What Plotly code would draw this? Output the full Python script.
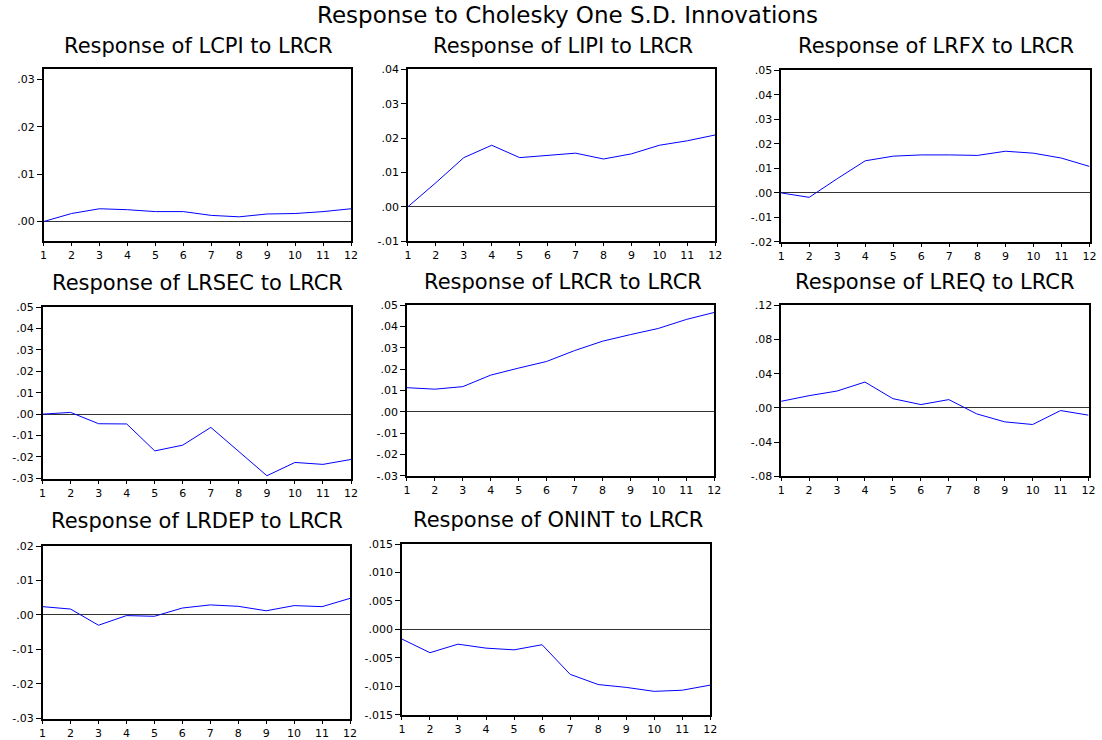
import plotly.graph_objects as go

W, H = 1102, 740

# ---------------- data ----------------
periods = list(range(1, 13))
x_ticklabels = [str(p) for p in periods]

main_title = "Response to Cholesky One S.D. Innovations"

titles = [
    "Response of LCPI to LRCR",
    "Response of LIPI to LRCR",
    "Response of LRFX to LRCR",
    "Response of LRSEC to LRCR",
    "Response of LRCR to LRCR",
    "Response of LREQ to LRCR",
    "Response of LRDEP to LRCR",
    "Response of ONINT to LRCR",
]

lcpi = [0.0000, 0.0017, 0.0027, 0.0025, 0.0021, 0.0021, 0.0013, 0.0010, 0.0016, 0.0017, 0.0021, 0.0027]
lipi = [0.0000, 0.0070, 0.0143, 0.0179, 0.0143, 0.0150, 0.0156, 0.0139, 0.0154, 0.0179, 0.0192, 0.0209]
lrfx = [0.0000, -0.0018, 0.0058, 0.0131, 0.0150, 0.0155, 0.0155, 0.0153, 0.0170, 0.0162, 0.0142, 0.0108]
lrsec = [0.0000, 0.0008, -0.0045, -0.0046, -0.0172, -0.0145, -0.0062, -0.0175, -0.0288, -0.0226, -0.0235, -0.0212]
lrcr = [0.0113, 0.0106, 0.0118, 0.0172, 0.0205, 0.0236, 0.0287, 0.0331, 0.0362, 0.0391, 0.0433, 0.0466]
lreq = [0.0077, 0.0143, 0.0197, 0.0302, 0.0108, 0.0039, 0.0097, -0.0070, -0.0163, -0.0194, -0.0031, -0.0085]
lrdep = [0.0024, 0.0017, -0.0030, -0.0002, -0.0004, 0.0020, 0.0029, 0.0025, 0.0012, 0.0027, 0.0024, 0.0048]
onint = [-0.0017, -0.0041, -0.0026, -0.0033, -0.0036, -0.0027, -0.0079, -0.0097, -0.0102, -0.0109, -0.0107, -0.0098]

series = [lcpi, lipi, lrfx, lrsec, lrcr, lreq, lrdep, onint]

yticks = [
    [0.00, 0.01, 0.02, 0.03],
    [-0.01, 0.00, 0.01, 0.02, 0.03, 0.04],
    [-0.02, -0.01, 0.00, 0.01, 0.02, 0.03, 0.04, 0.05],
    [-0.03, -0.02, -0.01, 0.00, 0.01, 0.02, 0.03, 0.04, 0.05],
    [-0.03, -0.02, -0.01, 0.00, 0.01, 0.02, 0.03, 0.04, 0.05],
    [-0.08, -0.04, 0.00, 0.04, 0.08, 0.12],
    [-0.03, -0.02, -0.01, 0.00, 0.01, 0.02],
    [-0.015, -0.010, -0.005, 0.000, 0.005, 0.010, 0.015],
]
yticklabels = [
    [".00", ".01", ".02", ".03"],
    ["-.01", ".00", ".01", ".02", ".03", ".04"],
    ["-.02", "-.01", ".00", ".01", ".02", ".03", ".04", ".05"],
    ["-.03", "-.02", "-.01", ".00", ".01", ".02", ".03", ".04", ".05"],
    ["-.03", "-.02", "-.01", ".00", ".01", ".02", ".03", ".04", ".05"],
    ["-.08", "-.04", ".00", ".04", ".08", ".12"],
    ["-.03", "-.02", "-.01", ".00", ".01", ".02"],
    ["-.015", "-.010", "-.005", ".000", ".005", ".010", ".015"],
]

# ---------------- layout (pixels) ----------------
yranges = [
    [-0.0042, 0.0321],
    [-0.0101, 0.0400],
    [-0.0202, 0.0500],
    [-0.0305, 0.0500],
    [-0.0303, 0.0500],
    [-0.0800, 0.1200],
    [-0.0303, 0.0200],
    [-0.0151, 0.0150],
]
# (left, right, top, bottom) of each plot frame in target-picture pixels
frames = [
    (42, 350, 69, 242),
    (407, 715, 69, 242),
    (781, 1090, 70, 243),
    (41, 350, 308, 481),
    (406, 714, 306, 478),
    (781, 1089, 306, 478),
    (41, 349, 548, 722),
    (401, 710, 546, 718),
]
title_pos = [
    (197, 46), (562, 46), (936, 46),
    (196, 284), (562, 283), (935, 283),
    (196, 523), (557, 522),
]

# the captured page is slightly rescaled/offset; compensate
SX, OX = 0.992, 2.3
SY, OY = 0.983, 5.4


def px(x):
    return (x - OX) / SX / W


def py(y):
    return 1 - (y - OY) / SY / H


FONT = "DejaVu Sans, Liberation Sans, Arial, sans-serif"

fig = go.Figure()
layout = dict(
    width=W, height=H,
    margin=dict(l=0, r=0, t=0, b=0),
    paper_bgcolor="white", plot_bgcolor="white",
    showlegend=False,
    font=dict(family=FONT, color="black"),
    annotations=[],
)

for i in range(8):
    n = i + 1
    xa = "x" if n == 1 else f"x{n}"
    ya = "y" if n == 1 else f"y{n}"
    fig.add_trace(go.Scatter(
        x=periods, y=series[i], mode="lines",
        line=dict(color="#0000FF", width=1),
        xaxis=xa, yaxis=ya, hoverinfo="skip",
    ))
    l, r, t, b = frames[i]
    xkey = "xaxis" if n == 1 else f"xaxis{n}"
    ykey = "yaxis" if n == 1 else f"yaxis{n}"
    layout[xkey] = dict(
        domain=[px(l), px(r)], anchor=ya, range=[1, 12],
        tickvals=periods, ticktext=x_ticklabels,
        showgrid=False, zeroline=False,
        showline=True, linecolor="black", linewidth=1.5, mirror=True,
        ticks="outside", ticklen=3, tickcolor="black", tickwidth=1,
        tickfont=dict(family=FONT, size=11, color="black"),
    )
    layout[ykey] = dict(
        domain=[py(b), py(t)], anchor=xa, range=yranges[i],
        tickvals=yticks[i], ticktext=yticklabels[i],
        showgrid=False, zeroline=True, zerolinecolor="#333333", zerolinewidth=1,
        showline=True, linecolor="black", linewidth=1.5, mirror=True,
        ticks="outside", ticklen=5, tickcolor="black", tickwidth=1,
        tickfont=dict(family=FONT, size=11, color="black"),
    )
    tx, ty = title_pos[i]
    layout["annotations"].append(dict(
        text=titles[i], x=px(tx), y=py(ty), xref="paper", yref="paper",
        xanchor="center", yanchor="middle", showarrow=False,
        font=dict(family=FONT, size=21, color="black"),
    ))

layout["annotations"].append(dict(
    text=main_title, x=px(567), y=py(14), xref="paper", yref="paper",
    xanchor="center", yanchor="middle", showarrow=False,
    font=dict(family=FONT, size=23, color="black"),
))

fig.update_layout(**layout)
fig.write_html(
    "out.html",
    config={"displayModeBar": False},
    post_script=(
        "document.documentElement.style.margin='0px';"
        "document.documentElement.style.padding='0px';"
        "document.documentElement.style.overflow='hidden';"
        "document.body.style.margin='0px';"
        "document.body.style.padding='0px';"
        "document.body.style.overflow='hidden';"
    ),
)
